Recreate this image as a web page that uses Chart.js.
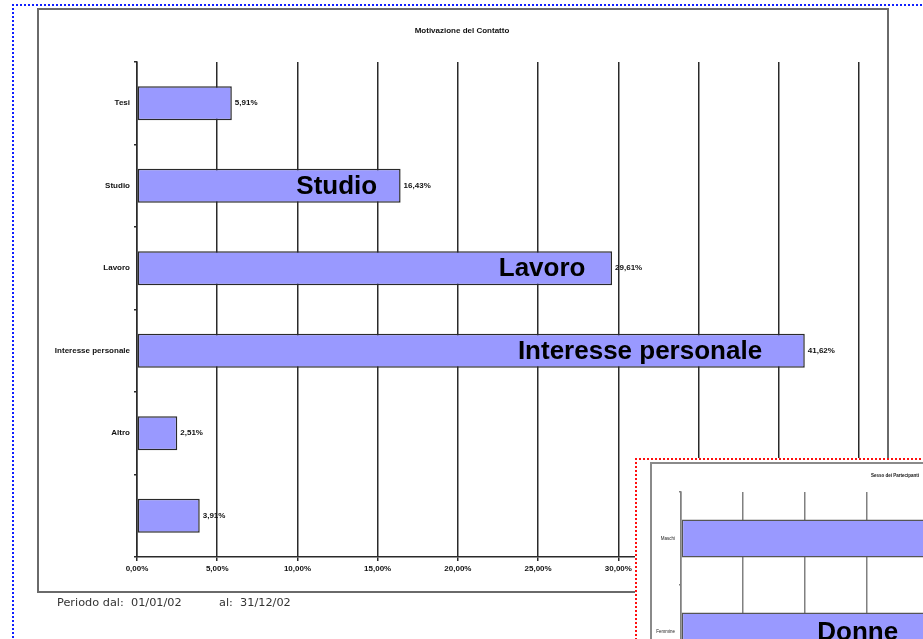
<!DOCTYPE html>
<html>
<head>
<meta charset="utf-8">
<script src="https://cdn.jsdelivr.net/npm/chart.js@4/dist/chart.umd.min.js"></script>
<style>
  html, body { margin: 0; padding: 0; background: #fff; width: 923px; height: 639px; overflow: hidden; position: relative; }
  #pageBorder { position: absolute; left: 12px; top: 4px; width: 1000px; height: 1000px; border-top: 2px dotted #1020ff; border-left: 2px dotted #1020ff; }
  #frame { position: absolute; left: 37px; top: 8px; width: 848px; height: 581px; border: 2px solid #6a6a6a; background: #fff; }
  #main { position: absolute; left: 0; top: 0; }
  .foot { position: absolute; top: 596px; font-family: "DejaVu Sans", Verdana, sans-serif; font-size: 11.3px; color: #333; }
  #inset { position: absolute; left: 635px; top: 458px; width: 400px; height: 300px; border-top: 2px dotted #ff1010; border-left: 2px dotted #ff1010; background: #fff; overflow: hidden; }
  #insetFrame { position: absolute; left: 13px; top: 2px; width: 600px; height: 400px; border-top: 2px solid #8a8a8a; border-left: 2px solid #8a8a8a; background: #fff; }
  #c2 { position: absolute; left: 13px; top: 4px; }
</style>
</head>
<body>
<div id="pageBorder"></div>
<div id="frame"></div>
<canvas id="main" width="923" height="639"></canvas>
<div class="foot" style="left:57px">Periodo dal:&nbsp; 01/01/02</div>
<div class="foot" style="left:219px">al:&nbsp; 31/12/02</div>
<div id="inset">
  <div id="insetFrame"></div>
  <canvas id="c2" width="600" height="260"></canvas>
</div>
<script>
// ---- data: main chart (Motivazione del Contatto) ----
const categories = ["Tesi", "Studio", "Lavoro", "Interesse personale", "Altro", ""];
const percentages = [5.91, 16.43, 29.61, 41.62, 2.51, 3.91];
const xTicks = [0, 5, 10, 15, 20, 25, 30, 35, 40, 45];
const mainTitle = "Motivazione del Contatto";
const bigLabels = ["", "Studio", "Lavoro", "Interesse personale", "", ""];

// ---- data: inset chart (Sesso dei Partecipanti) ----
const insetCategories = ["Maschi", "Femmine"];
const insetPercentages = [46.3, 53.7];
const insetTitle = "Sesso dei Partecipanti";
const insetBigLabels = ["", "Donne"];

const fmt = v => v.toFixed(2).replace('.', ',') + '%';
const BAR = 'rgb(153,153,255)';

function decoPlugin(id, opts) {
  return {
    id: id,
    afterDatasetsDraw(chart) {
      const ctx = chart.ctx;
      const meta = chart.getDatasetMeta(0);
      const xs = chart.scales.x;
      ctx.save();
      meta.data.forEach((bar, i) => {
        if (opts.showValues) {
          ctx.font = 'bold 8px "Liberation Sans", Arial, sans-serif';
          ctx.fillStyle = '#111';
          ctx.textAlign = 'left';
          ctx.textBaseline = 'middle';
          ctx.fillText(fmt(chart.data.datasets[0].data[i]), bar.x + 3, bar.y);
        }
        const t = opts.big[i];
        if (t) {
          ctx.font = 'bold 26px "Liberation Sans", Arial, sans-serif';
          ctx.fillStyle = '#000';
          ctx.textAlign = 'center';
          ctx.textBaseline = 'middle';
          ctx.fillText(t, xs.getPixelForValue(opts.anchors[i]), bar.y + 1);
        }
      });
      ctx.font = 'bold ' + opts.titleSize + 'px "Liberation Sans", Arial, sans-serif';
      ctx.fillStyle = '#111';
      ctx.textAlign = 'center';
      ctx.textBaseline = 'middle';
      ctx.fillText(opts.title, opts.titleX, opts.titleY);
      ctx.restore();
    }
  };
}

new Chart(document.getElementById('main'), {
  type: 'bar',
  data: {
    labels: categories,
    datasets: [{
      data: percentages,
      backgroundColor: BAR,
      borderColor: '#2a2a2a',
      borderWidth: 1.5,
      borderSkipped: false,
      categoryPercentage: 1.0,
      barPercentage: 0.41
    }]
  },
  options: {
    indexAxis: 'y',
    responsive: false,
    animation: false,
    devicePixelRatio: 1,
    layout: { padding: { left: 0, top: 62, right: 64, bottom: 52 } },
    plugins: { legend: { display: false }, tooltip: { enabled: false }, title: { display: false } },
    scales: {
      x: {
        min: 0, max: 45,
        afterFit(s) { s.height = 30; },
        afterBuildTicks(s) { s.ticks = xTicks.map(v => ({ value: v })); },
        ticks: { callback: v => fmt(v), color: '#111', font: { family: '"Liberation Sans", Arial', size: 8, weight: 'bold' }, padding: 3, maxRotation: 0 },
        grid: { color: '#2a2a2a', lineWidth: 1.5, tickLength: 4 },
        border: { color: '#2a2a2a', width: 1.5 }
      },
      y: {
        afterFit(s) { s.width = 137; },
        ticks: { color: '#111', font: { family: '"Liberation Sans", Arial', size: 8, weight: 'bold' }, padding: 4 },
        grid: { drawOnChartArea: false, color: '#2a2a2a', lineWidth: 1.5, tickLength: 3, offset: true },
        border: { color: '#2a2a2a', width: 1.5 }
      }
    }
  },
  plugins: [decoPlugin('deco1', { showValues: true, big: bigLabels, anchors: [0, 12.45, 25.25, 31.35, 0, 0], title: mainTitle, titleSize: 8, titleX: 462, titleY: 31 })]
});

new Chart(document.getElementById('c2'), {
  type: 'bar',
  data: {
    labels: insetCategories,
    datasets: [{
      data: insetPercentages,
      backgroundColor: BAR,
      borderColor: '#555',
      borderWidth: 1.5,
      borderSkipped: false,
      categoryPercentage: 1.0,
      barPercentage: 0.41
    }]
  },
  options: {
    indexAxis: 'y',
    responsive: false,
    animation: false,
    devicePixelRatio: 1,
    layout: { padding: { left: 0, top: 28, right: 73, bottom: 16 } },
    plugins: { legend: { display: false }, tooltip: { enabled: false }, title: { display: false } },
    scales: {
      x: {
        min: 0, max: 80,
        afterFit(s) { s.height = 30; },
        ticks: { stepSize: 10, callback: v => fmt(v), color: '#111', font: { size: 5 } },
        grid: { color: '#808080', lineWidth: 1.5, tickLength: 3 },
        border: { color: '#808080', width: 1.5 }
      },
      y: {
        afterFit(s) { s.width = 31; },
        ticks: { color: '#222', font: { family: '"Liberation Sans", Arial', size: 4.5 }, padding: 4 },
        grid: { drawOnChartArea: false, color: '#808080', lineWidth: 1.5, tickLength: 2, offset: true },
        border: { color: '#808080', width: 1.5 }
      }
    }
  },
  plugins: [decoPlugin('deco2', { showValues: false, big: insetBigLabels, anchors: [0, 28.5], title: insetTitle, titleSize: 4.5, titleX: 245, titleY: 12 })]
});
</script>
</body>
</html>
